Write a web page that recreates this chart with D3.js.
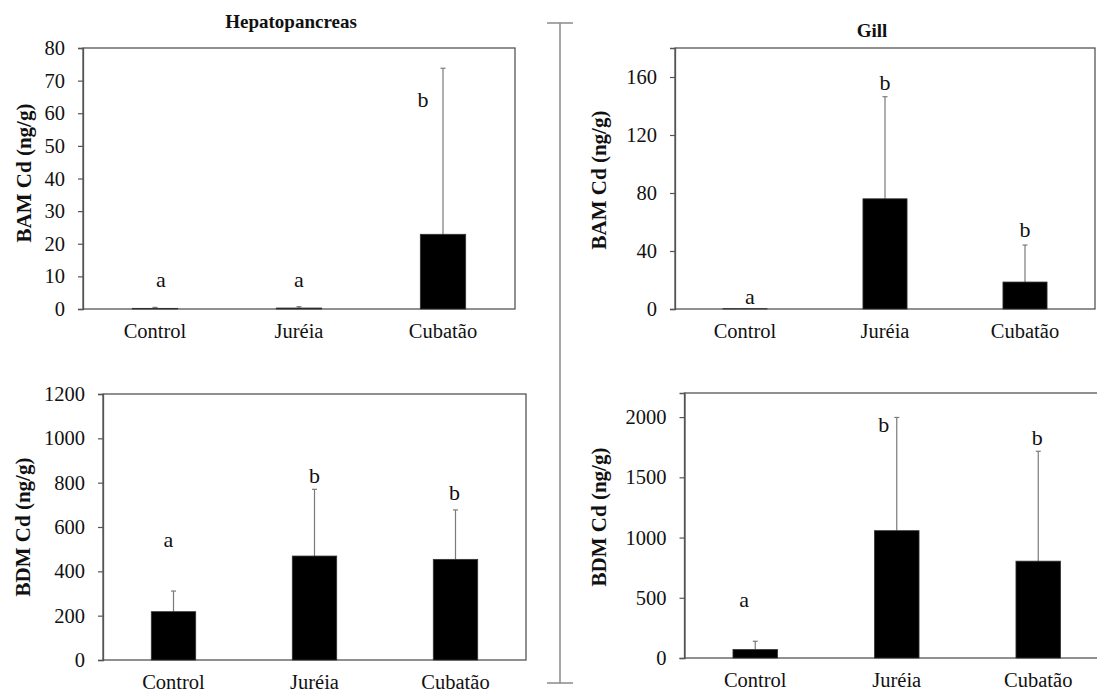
<!DOCTYPE html>
<html>
<head>
<meta charset="utf-8">
<script src="https://cdn.jsdelivr.net/npm/d3@7"></script>
<style>
  html, body { margin: 0; padding: 0; background: #fff; }
  svg { display: block; }
</style>
</head>
<body>
<svg id="chart" width="1097" height="693" font-family="Liberation Serif, DejaVu Serif, serif"></svg>
<script>
const categories = ['Control', 'Juréia', 'Cubatão']

// Hepatopancreas, BAM Cd (ng/g)
const hepBamMean = [0.2, 0.3, 22.9]
const hepBamSd = [0.3, 0.4, 50.9]
const hepBamLetters = ['a', 'a', 'b']
const hepBamLetterY = [6.7, 6.7, 62]
const hepBamTicks = [0, 10, 20, 30, 40, 50, 60, 70, 80]

// Gill, BAM Cd (ng/g)
const gillBamMean = [0.2, 76, 18.6]
const gillBamSd = [0.1, 70.4, 25.5]
const gillBamLetters = ['a', 'b', 'b']
const gillBamLetterY = [3.4, 151, 50]
const gillBamTicks = [0, 40, 80, 120, 160]

// Hepatopancreas, BDM Cd (ng/g)
const hepBdmMean = [218, 469, 454]
const hepBdmSd = [93, 301, 223]
const hepBdmLetters = ['a', 'b', 'b']
const hepBdmLetterY = [511, 800, 722]
const hepBdmTicks = [0, 200, 400, 600, 800, 1000, 1200]

// Gill, BDM Cd (ng/g)
const gillBdmMean = [70, 1057, 804]
const gillBdmSd = [69, 940, 912]
const gillBdmLetters = ['a', 'b', 'b']
const gillBdmLetterY = [424, 1880, 1770]
const gillBdmTicks = [0, 500, 1000, 1500, 2000]

const FONT = 'Liberation Serif, DejaVu Serif, serif'
const AXIS_COLOR = '#555'
const ERR_COLOR = '#7a7a7a'

const panels = [
  {
    title: 'Hepatopancreas', titleX: 291, titleY: 28,
    yLabel: 'BAM Cd (ng/g)', yLabelX: 24, yLabelY: 173,
    mean: hepBamMean, sd: hepBamSd, letters: hepBamLetters, letterY: hepBamLetterY,
    letterDx: [6, 0, -20], ticks: hepBamTicks, max: 80,
    left: 83, right: 515, top: 48, bottom: 309
  },
  {
    title: 'Gill', titleX: 872, titleY: 37,
    yLabel: 'BAM Cd (ng/g)', yLabelX: 599, yLabelY: 180,
    mean: gillBamMean, sd: gillBamSd, letters: gillBamLetters, letterY: gillBamLetterY,
    letterDx: [5, 0, 0], ticks: gillBamTicks, max: 180,
    left: 675, right: 1095, top: 48, bottom: 309
  },
  {
    title: null,
    yLabel: 'BDM Cd (ng/g)', yLabelX: 23, yLabelY: 527,
    mean: hepBdmMean, sd: hepBdmSd, letters: hepBdmLetters, letterY: hepBdmLetterY,
    letterDx: [-5, 0, -1], ticks: hepBdmTicks, max: 1200,
    left: 103, right: 526, top: 394, bottom: 660
  },
  {
    title: null,
    yLabel: 'BDM Cd (ng/g)', yLabelX: 599, yLabelY: 517,
    mean: gillBdmMean, sd: gillBdmSd, letters: gillBdmLetters, letterY: gillBdmLetterY,
    letterDx: [-11, -13, -1], ticks: gillBdmTicks, max: 2200,
    left: 684.5, right: 1109, top: 393, bottom: 658
  }
]

const svg = d3.select('#chart')

panels.forEach(p => {
  const x = d3.scaleBand()
    .domain(categories)
    .range([p.left, p.right])
    .paddingInner(0.685)
    .paddingOuter(0.3425)

  const y = d3.scaleLinear()
    .domain([0, p.max])
    .range([p.bottom, p.top])

  const g = svg.append('g')
    .attr('font-family', FONT)
    .attr('fill', '#111')

  // plot frame
  g.append('rect')
    .attr('x', p.left)
    .attr('y', p.top)
    .attr('width', p.right - p.left)
    .attr('height', p.bottom - p.top)
    .attr('fill', 'none')
    .attr('stroke', AXIS_COLOR)
    .attr('stroke-width', 1.3)

  const yAxis = g.append('g')
    .attr('transform', `translate(${p.left},0)`)
    .call(d3.axisLeft(y).tickValues(p.ticks).tickSize(5).tickPadding(13).tickFormat(d3.format('d')))
    .attr('font-family', FONT)
    .attr('font-size', 20.5)

  yAxis.select('.domain').attr('stroke', AXIS_COLOR).attr('stroke-width', 1.3)
  yAxis.selectAll('.tick line').attr('stroke', AXIS_COLOR).attr('stroke-width', 1.2)
  yAxis.selectAll('.tick text').attr('fill', '#111')

  // category labels
  g.selectAll('.cat')
    .data(categories)
    .enter()
    .append('text')
    .attr('x', d => x(d) + x.bandwidth() / 2)
    .attr('y', p.bottom + 29)
    .attr('text-anchor', 'middle')
    .attr('font-size', 20.5)
    .text(d => d)

  // error bars
  const err = g.selectAll('.err')
    .data(categories)
    .enter()
    .append('g')

  err.append('line')
    .attr('x1', d => x(d) + x.bandwidth() / 2)
    .attr('x2', d => x(d) + x.bandwidth() / 2)
    .attr('y1', (d, i) => y(p.mean[i]))
    .attr('y2', (d, i) => y(p.mean[i] + p.sd[i]))
    .attr('stroke', ERR_COLOR)
    .attr('stroke-width', 1.2)

  err.append('line')
    .attr('x1', d => x(d) + x.bandwidth() / 2 - 2.5)
    .attr('x2', d => x(d) + x.bandwidth() / 2 + 2.5)
    .attr('y1', (d, i) => y(p.mean[i] + p.sd[i]))
    .attr('y2', (d, i) => y(p.mean[i] + p.sd[i]))
    .attr('stroke', ERR_COLOR)
    .attr('stroke-width', 1.2)

  // bars
  g.selectAll('.bar')
    .data(categories)
    .enter()
    .append('rect')
    .attr('x', d => x(d))
    .attr('y', (d, i) => y(p.mean[i]))
    .attr('width', x.bandwidth())
    .attr('height', (d, i) => y(0) - y(p.mean[i]))
    .attr('fill', '#000')
    .attr('stroke', '#333')
    .attr('stroke-width', 0.8)

  // significance letters
  g.selectAll('.letter')
    .data(categories)
    .enter()
    .append('text')
    .attr('x', (d, i) => x(d) + x.bandwidth() / 2 + p.letterDx[i])
    .attr('y', (d, i) => y(p.letterY[i]))
    .attr('text-anchor', 'middle')
    .attr('font-size', 22)
    .text((d, i) => p.letters[i])

  // y axis title
  g.append('text')
    .attr('transform', `translate(${p.yLabelX},${p.yLabelY}) rotate(-90)`)
    .attr('text-anchor', 'middle')
    .attr('dy', '0.35em')
    .attr('font-size', 21)
    .attr('font-weight', 'bold')
    .text(p.yLabel)

  if (p.title) {
    g.append('text')
      .attr('x', p.titleX)
      .attr('y', p.titleY)
      .attr('text-anchor', 'middle')
      .attr('font-size', 19)
      .attr('font-weight', 'bold')
      .text(p.title)
  }
})

// separator between the two organs
const sep = svg.append('g')
  .attr('stroke', '#8a8a8a')
  .attr('stroke-width', 1.5)
sep.append('line').attr('x1', 560).attr('x2', 560).attr('y1', 23).attr('y2', 683)
sep.append('line').attr('x1', 547).attr('x2', 573).attr('y1', 23).attr('y2', 23)
sep.append('line').attr('x1', 547).attr('x2', 573).attr('y1', 683).attr('y2', 683)
</script>
</body>
</html>
